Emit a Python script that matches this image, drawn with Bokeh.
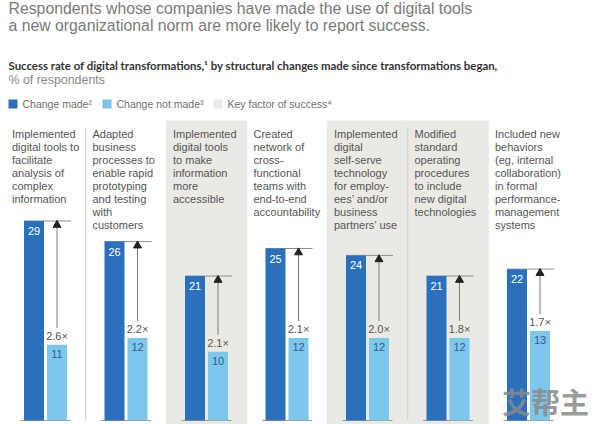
from bokeh.plotting import figure
from bokeh.models import Range1d
from bokeh.core.properties import value
from bokeh.embed import file_html
from bokeh.resources import INLINE

# ---------------- data ----------------
title_lines = ["Respondents whose companies have made the use of digital tools",
               "a new organizational norm are more likely to report success."]
subtitle = "Success rate of digital transformations,\u00b9 by structural changes made since transformations began,"
unit_label = "% of respondents"
legend_labels = ["Change made\u00b2", "Change not made\u00b3", "Key factor of success\u2074"]

categories = [
    "Implemented\ndigital tools to\nfacilitate\nanalysis of\ncomplex\ninformation",
    "Adapted\nbusiness\nprocesses to\nenable rapid\nprototyping\nand testing\nwith\ncustomers",
    "Implemented\ndigital tools\nto make\ninformation\nmore\naccessible",
    "Created\nnetwork of\ncross-\nfunctional\nteams with\nend-to-end\naccountability",
    "Implemented\ndigital\nself-serve\ntechnology\nfor employ-\nees\u2019 and/or\nbusiness\npartners\u2019 use",
    "Modified\nstandard\noperating\nprocedures\nto include\nnew digital\ntechnologies",
    "Included new\nbehaviors\n(eg, internal\ncollaboration)\nin formal\nperformance-\nmanagement\nsystems",
]
change_made = [29, 26, 21, 25, 24, 21, 22]
change_not_made = [11, 12, 10, 12, 12, 12, 13]
ratios = ["2.6\u00d7", "2.2\u00d7", "2.1\u00d7", "2.1\u00d7", "2.0\u00d7", "1.8\u00d7", "1.7\u00d7"]
key_factor = [False, False, True, False, True, True, False]
watermark = "艾帮主"

# ---------------- style ----------------
DARK = "#2b70bd"
LIGHT = "#7dc6ec"
SHADE = "#ebe9e4"
FONT = "Liberation Sans"

W, H = 594, 424
B = 420.0      # baseline pixel row
K = 6.88       # pixels per percentage point

def py(pix):
    return (B - pix) / K

p = figure(width=W, height=H, x_range=Range1d(0, W), y_range=Range1d(py(H), py(0)),
           output_backend="svg", toolbar_location=None,
           x_axis_location=None, y_axis_location=None, min_border=0)
p.grid.visible = False
p.outline_line_color = None
p.background_fill_color = "white"

n = len(categories)
cx = [45 + 80.5 * i for i in range(n)]
xd = [c - 11.5 for c in cx]
xl = [c + 11.5 for c in cx]

# shading for key factors
sh = [i for i in range(n) if key_factor[i]]
p.quad(left=[cx[i] - 40.5 for i in sh], right=[cx[i] + 40.75 for i in sh],
       top=py(120), bottom=py(H + 5), fill_color=SHADE, line_color=None)

# dividers between neighbouring columns with same background
dv = [i for i in range(n - 1) if key_factor[i] == key_factor[i + 1]]
p.segment(x0=[(cx[i] + cx[i + 1]) / 2 for i in dv], x1=[(cx[i] + cx[i + 1]) / 2 for i in dv],
          y0=py(127), y1=0, line_color="#cfcdc8", line_width=1)

# title
p.text(x=[8, 8], y=[py(7.5), py(25)], text=title_lines, text_font=value(FONT),
       text_font_size="15.8px", text_color="#7a7a7a", text_baseline="middle")
p.text(x=[8], y=[py(65)], text=[subtitle], text_font=value("Lato"),
       text_font_size="11.4px", text_font_style="bold", text_color="#333333",
       text_baseline="middle")
p.text(x=[8], y=[py(79)], text=[unit_label], text_font=value(FONT), text_font_size="12.4px",
       text_color="#8a8a8a", text_baseline="middle")

# legend
lx = [8, 102, 213]
lc = [DARK, LIGHT, SHADE]
p.quad(left=lx, right=[x + 9 for x in lx], top=py(99), bottom=py(108), fill_color=lc, line_color=None)
p.text(x=[x + 14 for x in lx], y=py(103.5), text=legend_labels, text_font=value(FONT),
       text_font_size="10.5px", text_color="#707070", text_baseline="middle")

# category labels
tx, ty, tt = [], [], []
for i, c in enumerate(categories):
    for j, line in enumerate(c.split("\n")):
        tx.append(cx[i] - 33.5)
        ty.append(py(133 + 13 * j))
        tt.append(line)
p.text(x=tx, y=ty, text=tt, text_font=value(FONT), text_font_size="11px",
       text_color="#555555", text_baseline="middle")

# top reference lines and baselines
p.segment(x0=[c - 21.5 for c in cx], x1=[c + 25.5 for c in cx], y0=change_made, y1=change_made,
          line_color="#8e8e8e", line_width=1)
p.segment(x0=[c - 25 for c in cx], x1=[c + 25 for c in cx], y0=0, y1=0,
          line_color="#9a9a9a", line_width=1)

# bars
p.vbar(x=xd, top=change_made, bottom=0, width=20, fill_color=DARK, line_color=None)
p.vbar(x=xl, top=change_not_made, bottom=0, width=20, fill_color=LIGHT, line_color=None)

# arrows
p.segment(x0=xl, x1=xl, y0=[v + 17 / K for v in change_not_made], y1=change_made,
          line_color="#7a7a7a", line_width=1)
p.scatter(x=xl, y=[v - 4 / K for v in change_made], marker="triangle", size=8,
          fill_color="#222222", line_color="#222222")

# labels
p.text(x=xd, y=[v - 10 / K for v in change_made], text=[str(v) for v in change_made],
       text_font=value(FONT), text_font_size="11px", text_color="white",
       text_align="center", text_baseline="middle")
p.text(x=xl, y=[v - 9 / K for v in change_not_made], text=[str(v) for v in change_not_made],
       text_font=value(FONT), text_font_size="11px", text_color="#2f5d8c",
       text_align="center", text_baseline="middle")
p.text(x=xl, y=[v + 9 / K for v in change_not_made], text=ratios,
       text_font=value(FONT), text_font_size="11px", text_color="#555555",
       text_align="center", text_baseline="middle")

# watermark
p.text(x=[545], y=[py(400)], text=[watermark], text_font=value("Noto Sans CJK SC"),
       text_font_size="29px", text_font_style="bold", text_color="#8a8a8a", text_alpha=0.85,
       text_align="center", text_baseline="middle")

open("out.html", "w").write(file_html(p, INLINE))
